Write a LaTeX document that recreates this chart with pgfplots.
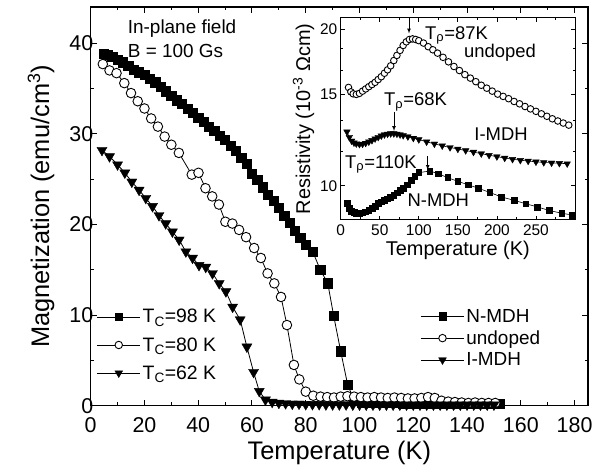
\documentclass[border=0pt]{standalone}
\usepackage{fontspec}
\setmainfont{Liberation Sans}
\usepackage{pgfplots}
\pgfplotsset{compat=1.18}

\pgfplotsset{
  legimg/.style={legend image code/.code={\draw[mark repeat=2,mark phase=2,##1] plot coordinates {(0bp,0bp) (21.5bp,0bp) (43bp,0bp)};}},
  sq/.style={black, line width=0.8bp, mark=square*, mark size=4.6bp, mark options={solid, line width=0.6bp}},
  ci/.style={black, line width=0.8bp, mark=*, mark size=4.8bp, mark options={solid, fill=white, line width=0.9bp}},
  tr/.style={black, line width=0.8bp, mark=triangle*, mark size=5.8bp, mark options={solid, rotate=180, line width=0.4bp}},
}

\begin{document}
\begin{tikzpicture}
\path[use as bounding box] (0bp,0bp) rectangle (602bp,471bp);

% ---------------- main axis ----------------
\begin{axis}[
  at={(90.7bp,65.3bp)}, anchor=south west,
  scale only axis, width=497.3bp, height=398.7bp,
  xmin=0, xmax=185, ymin=0, ymax=44,
  xtick={0,20,...,180}, minor xtick={10,30,...,170},
  ytick={0,10,...,40}, minor ytick={5,15,25,35},
  tick align=inside, major tick length=6bp, minor tick length=3.5bp,
  axis line style={line width=1.2bp},
  every tick/.style={line width=1bp, black},
  /pgf/number format/assume math mode=true,
  tick label style={font=\fontsize{21.5}{25}\selectfont},
  xticklabel style={yshift=-8bp},
  yticklabel style={xshift=6bp},
  xlabel={Temperature (K)},
  ylabel={Magnetization (emu/cm\textsuperscript{3})},
  label style={font=\fontsize{25.5}{30}\selectfont},
  xlabel style={yshift=-2bp},
  ylabel style={yshift=8bp},
  legimg,
  legend style={draw=none, fill=none, at={(0.663,0.248)}, anchor=north west,
    font=\fontsize{19}{22}\selectfont, inner sep=0pt, row sep=3bp,
    cells={anchor=west}},
  legend image post style={every mark/.append style={scale=0.78}},
]
\addplot[sq] coordinates {
(5,38.8)(6.5,38.7)(8,38.5)(10,38.2)(12,37.9)(14,37.5)(16,37.1)(18,36.8)(20,36.5)(22,36.1)
(24,35.7)(26,35.2)(28,34.7)(30,34.2)(32,33.7)(34,33.3)(36,32.8)(38,32.3)(40,31.8)(42,31.3)
(44,30.8)(46,30.3)(48,29.8)(50,29.3)(52,28.7)(54,28.1)(56,27.4)(58,26.7)(60,25.6)(62,24.9)
(64,24.1)(66,23.3)(68,22.6)(70,21.8)(72,21.0)(74,20.2)(76,19.3)(78,18.5)(80,17.8)(82.6,17.0)
(85.4,15.0)(88.2,13.5)(90.4,9.9)(93,6.0)(95.6,2.3)(98,0.6)(101,0.35)(104,0.3)(107,0.3)(110,0.28)
(113,0.28)(116,0.25)(119,0.25)(122,0.25)(125,0.22)(128,0.22)(131,0.2)(134,0.2)(137,0.2)(140,0.2)
(143,0.2)(146,0.2)(149,0.2)(152,0.2)
};
\addlegendentry{N-MDH}
\addplot[ci] coordinates {
(4.5,37.7)(7,37.0)(9.6,36.7)(12.5,35.6)(15,34.5)(17.5,33.6)(20,32.8)(22.5,31.7)(25,30.8)(27.5,29.7)
(30,28.8)(32.8,27.9)(37.6,25.5)(40.1,25.7)(42.7,24.0)(45.2,23.1)(47.7,22.2)(50.1,20.3)(52.7,20.1)(55.2,19.4)
(57.8,18.6)(60.8,17.4)(63.3,16.3)(65.8,14.6)(68.3,13.5)(70.8,12.0)(73,8.9)(75.6,4.5)(77.6,2.9)(80,1.55)
(82.8,1.1)(85.5,1.0)(88,0.95)(90.5,0.9)(93,1.0)(95.5,1.05)(98,1.0)(100.5,0.95)(103,0.9)(105.5,0.95)
(108,0.9)(110.5,0.85)(113,0.9)(115.5,0.85)(118,0.8)(120.5,0.8)(123,0.85)(125.5,0.95)(128,0.85)(130.5,0.55)
(133,0.45)(135.5,0.4)(138,0.35)(140.5,0.3)(143,0.35)(145.5,0.3)(148,0.3)(150.5,0.3)
};
\addlegendentry{undoped}
\addplot[tr] coordinates {
(4.2,28.2)(7,27.5)(10,26.6)(12.7,25.7)(15.3,24.7)(18,23.8)(20.5,22.9)(23,22.0)(25.4,21.0)(27.9,20.1)
(30.4,19.2)(32.9,18.3)(35.4,17.0)(37.9,16.3)(40.3,15.5)(42.8,15.3)(45.3,14.6)(47.8,13.5)(50.3,12.6)(52.8,10.9)
(55.6,9.5)(58.1,6.5)(60.6,3.7)(62.7,1.6)(65,0.65)(67.5,0.4)(70,0.3)(72.5,0.25)(75,0.2)(77.5,0.2)
(80,0.15)(82.5,0.15)(85,0.15)(87.5,0.12)(90,0.12)(92.5,0.12)(95,0.12)(97.5,0.1)(100,0.1)(102.5,0.1)
(105,0.1)(107.5,0.1)(110,0.1)(112.5,0.1)(115,0.1)(117.5,0.1)(120,0.1)(122.5,0.1)(125,0.1)(127.5,0.1)
(130,0.1)(132.5,0.1)(135,0.1)(137.5,0.1)(140,0.1)(142.5,0.1)(145,0.1)(147.5,0.1)(150,0.1)
};
\addlegendentry{I-MDH}
\end{axis}

% ---------------- second legend (Tc) ----------------
\begin{axis}[
  at={(90.7bp,65.3bp)}, anchor=south west,
  scale only axis, width=497.3bp, height=398.7bp,
  xmin=0, xmax=1, ymin=0, ymax=1, hide axis,
  legimg,
  legend style={draw=none, fill=none, at={(0.012,0.247)}, anchor=north west,
    font=\fontsize{19.5}{23}\selectfont, inner sep=0pt, row sep=9bp,
    cells={anchor=west}},
  legend image post style={every mark/.append style={scale=0.78}},
]
\addlegendimage{sq}
\addlegendentry{T\textsubscript{C}=98 K}
\addlegendimage{ci}
\addlegendentry{T\textsubscript{C}=80 K}
\addlegendimage{tr}
\addlegendentry{T\textsubscript{C}=62 K}
\end{axis}

% ---------------- inset ----------------
\begin{axis}[
  at={(340.7bp,251bp)}, anchor=south west,
  scale only axis, width=234.3bp, height=202bp,
  xmin=0, xmax=300, ymode=log, ymin=8.6, ymax=21,
  xtick={0,50,...,250}, minor xtick={25,75,...,275},
  ytick={10,15,20}, yticklabels={10,15,20},
  minor ytick={11.67,13.33,16.67,18.33},
  tick align=inside, major tick length=4.5bp, minor tick length=2.5bp,
  axis line style={line width=1bp},
  every tick/.style={line width=0.8bp, black},
  /pgf/number format/assume math mode=true,
  tick label style={font=\fontsize{15.5}{18}\selectfont},
  xticklabel style={yshift=-1.5bp},
  xlabel={Temperature (K)},
  ylabel={Resistivity (10\textsuperscript{-3} Ωcm)},
  label style={font=\fontsize{20}{24}\selectfont},
  xlabel style={yshift=1.5bp},
  ylabel style={yshift=-1bp},
]
\addplot[ci, mark size=3.3bp, line width=0.6bp] coordinates {
(10,15.45)(13,15.15)(16,15.02)(20,14.98)(24,15.05)(28,15.2)(32,15.35)(36,15.5)(40,15.65)(44,15.8)
(48,16.0)(52,16.2)(56,16.45)(60,16.7)(64,17.0)(68,17.4)(72,17.8)(76,18.2)(80,18.6)(84,18.9)
(88,19.1)(92,19.15)(96,19.1)(100,19.0)(106,18.8)(112,18.5)(118,18.25)(124,17.98)(131,17.65)(138,17.3)
(145,16.95)(152,16.65)(159,16.35)(166,16.1)(173,15.85)(180,15.6)(187,15.4)(194,15.2)(201,15.0)(208,14.85)
(215,14.7)(222,14.52)(229,14.37)(236,14.2)(243,14.05)(250,13.9)(257,13.75)(264,13.6)(271,13.45)(278,13.32)
(285,13.2)(292,13.08)
};
\addplot[tr, mark size=3.8bp, line width=0.6bp] coordinates {
(8,12.7)(11,12.4)(14,12.2)(17,12.1)(20,12.05)(24,12.02)(28,12.03)(32,12.08)(36,12.15)(40,12.23)
(44,12.32)(48,12.4)(52,12.48)(56,12.54)(60,12.58)(64,12.6)(68,12.6)(72,12.58)(76,12.54)(80,12.5)
(86,12.43)(93,12.35)(100,12.27)(110,12.15)(120,12.04)(130,11.94)(140,11.85)(150,11.77)(160,11.69)(170,11.61)
(180,11.53)(190,11.45)(200,11.38)(210,11.31)(220,11.25)(230,11.2)(240,11.16)(250,11.12)(260,11.09)(270,11.07)
(280,11.05)(290,11.03)
};
\addplot[sq, mark size=2.9bp, line width=0.6bp] coordinates {
(8,9.25)(11,9.05)(14,8.95)(17,8.9)(20,8.87)(24,8.86)(28,8.88)(32,8.92)(36,8.98)(40,9.06)
(44,9.15)(48,9.25)(52,9.32)(56,9.38)(60,9.44)(64,9.52)(68,9.6)(72,9.7)(76,9.8)(80,9.9)
(85,10.05)(90,10.25)(95,10.45)(100,10.6)(114,10.68)(125,10.55)(137,10.37)(150,10.2)(163,10.05)(176,9.9)
(191,9.71)(206,9.52)(222,9.38)(237,9.24)(252,9.11)(267,8.97)(283,8.86)(297,8.79)
};
\end{axis}

% ---------------- annotations ----------------
\begin{scope}[every node/.style={inner sep=0pt, font=\fontsize{19}{22}\selectfont}]
\node[anchor=base west] at (127.7bp,437bp) {In-plane field};
\node[anchor=base west] at (127.7bp,413.5bp) {B = 100 Gs};
\end{scope}
\begin{scope}[every node/.style={inner sep=0pt, font=\fontsize{18.5}{22}\selectfont}]
\node[anchor=base west] at (425bp,431.7bp) {T\textsubscript{ρ}=87K};
\node[anchor=base] at (500bp,413.5bp) {undoped};
\node[anchor=base west] at (384bp,365bp) {T\textsubscript{ρ}=68K};
\node[anchor=base] at (501bp,330.4bp) {I-MDH};
\node[anchor=base west] at (345bp,302.7bp) {T\textsubscript{ρ}=110K};
\node[anchor=base] at (438.3bp,264.4bp) {N-MDH};
\end{scope}
\draw[-latex, line width=0.7bp] (409bp,452.7bp) -- (409bp,437.5bp);
\draw[-latex, line width=0.7bp] (394bp,359bp) -- (394bp,340bp);
\draw[-latex, line width=0.7bp] (427.7bp,315bp) -- (427.7bp,301bp);
\end{tikzpicture}
\end{document}
